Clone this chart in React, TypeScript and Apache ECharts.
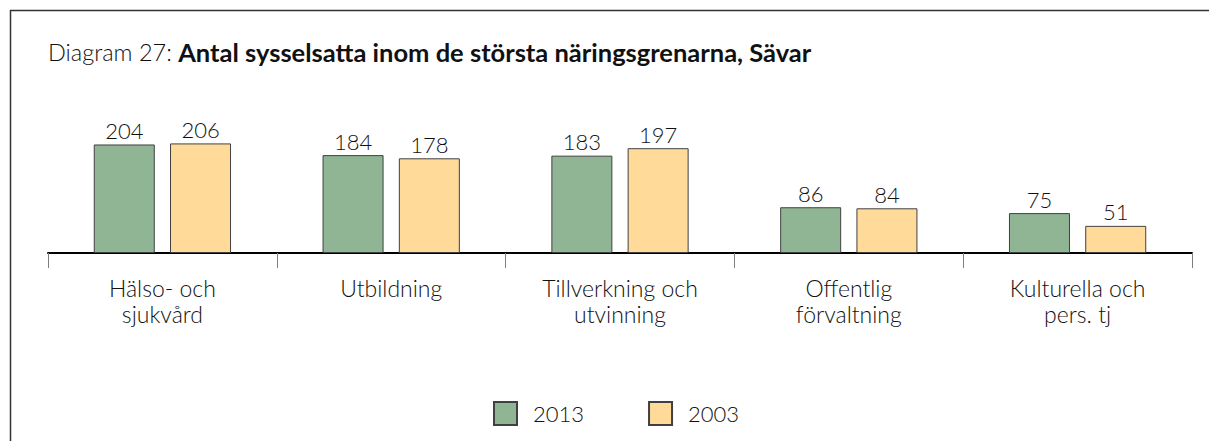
import React, { useEffect, useRef } from "react";
import * as echarts from "echarts";

const categories = [
  "Hälso- och\nsjukvård",
  "Utbildning",
  "Tillverkning och\nutvinning",
  "Offentlig\nförvaltning",
  "Kulturella och\npers. tj",
];
const seriesNames = ["2013", "2003"];
const values2013 = [204, 184, 183, 86, 75];
const values2003 = [206, 178, 197, 84, 51];
const titlePrefix = "Diagram 27: ";
const titleMain = "Antal sysselsatta inom de största näringsgrenarna, Sävar";

const FONT = "Lato, 'Noto Sans', sans-serif";

export default function App() {
  const ref = useRef<HTMLDivElement>(null);
  useEffect(() => {
    if (!ref.current) return;
    const chart = echarts.init(ref.current, undefined, { renderer: "svg" });
    const labelStyle = {
      show: true,
      position: "top" as const,
      distance: 3,
      color: "#111",
      fontSize: 22,
      fontWeight: 300 as any,
      fontFamily: FONT,
    };
    chart.setOption({
      animation: false,
      backgroundColor: "#ffffff",
      title: {
        text: `{a|${titlePrefix}}{b|${titleMain}}`,
        left: 43,
        top: 34,
        textStyle: {
          rich: {
            a: { fontSize: 23.5, fontFamily: FONT, color: "#111", fontWeight: 300 },
            b: { fontSize: 25.5, fontFamily: FONT, color: "#111", fontWeight: "bold" },
          },
        },
      },
      legend: {
        data: seriesNames,
        top: 396,
        left: 488,
        itemWidth: 23,
        itemHeight: 23,
        itemGap: 64,
        icon: "rect",
        textStyle: {
          fontSize: 22,
          fontWeight: 300,
          fontFamily: FONT,
          color: "#111",
          padding: [0, 0, 0, 11],
        },
      },
      grid: { left: 48, right: 17, top: 120, bottom: 188, containLabel: false },
      xAxis: {
        type: "category",
        data: categories,
        axisLine: { lineStyle: { color: "#000", width: 2 } },
        axisTick: { show: true, length: 15, lineStyle: { color: "#7f7f7f", width: 1 } },
        axisLabel: {
          interval: 0,
          margin: 22,
          fontSize: 23,
          fontWeight: 300,
          lineHeight: 26,
          fontFamily: FONT,
          color: "#111",
        },
      },
      yAxis: { type: "value", min: 0, max: 250, show: false, splitLine: { show: false } },
      series: [
        {
          name: seriesNames[0],
          type: "bar",
          data: values2013,
          barGap: "25%",
          barCategoryGap: "40%",
          itemStyle: { color: "#8fb594", borderColor: "#404040", borderWidth: 1 },
          label: labelStyle,
        },
        {
          name: seriesNames[1],
          type: "bar",
          data: values2003,
          itemStyle: { color: "#ffda99", borderColor: "#404040", borderWidth: 1 },
          label: labelStyle,
        },
      ],
      graphic: [
        { type: "line", shape: { x1: 10, y1: 10.5, x2: 1209, y2: 10.5 }, style: { stroke: "#333", lineWidth: 1.5 } },
        { type: "line", shape: { x1: 10.5, y1: 10, x2: 10.5, y2: 441 }, style: { stroke: "#333", lineWidth: 1.5 } },
      ],
    });
    return () => chart.dispose();
  }, []);
  return (
    <div
      ref={ref}
      style={{ position: "fixed", left: 0, top: 0, width: 1209, height: 441 }}
    />
  );
}
